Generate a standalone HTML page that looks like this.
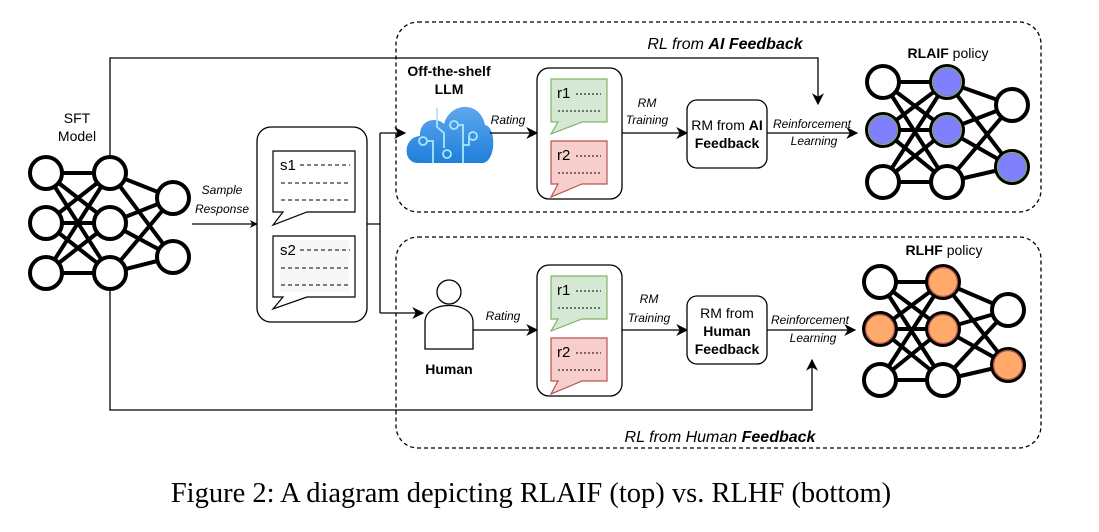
<!DOCTYPE html>
<html><head><meta charset="utf-8"><style>
body{margin:0;background:#fff}
svg{display:block}
text{font-family:"Liberation Sans",sans-serif;fill:#000}
</style></head><body>
<svg width="1099" height="532" viewBox="0 0 1099 532">
<defs>
<marker id="a" viewBox="0 0 10 10" refX="9" refY="5" markerWidth="8" markerHeight="8" orient="auto" markerUnits="userSpaceOnUse"><path d="M0,0 L10,5 L0,10 L3,5z" fill="#000"/></marker>
<marker id="b" viewBox="0 0 10 10" refX="9" refY="5" markerWidth="12" markerHeight="12" orient="auto" markerUnits="userSpaceOnUse"><path d="M0,0 L10,5 L0,10 L3,5z" fill="#000"/></marker>
<linearGradient id="cg" x1="0" y1="0" x2="0" y2="1"><stop offset="0" stop-color="#5ea7ee"/><stop offset="1" stop-color="#1f7fd9"/></linearGradient>
</defs>

<rect x="396" y="22" width="645" height="190" rx="22" fill="none" stroke="#000" stroke-width="1.3" stroke-dasharray="4,3"/>
<rect x="396" y="237" width="645" height="211" rx="22" fill="none" stroke="#000" stroke-width="1.3" stroke-dasharray="4,3"/>
<text x="725" y="49" font-size="16" font-style="italic" text-anchor="middle">RL from <tspan font-weight="bold">AI Feedback</tspan></text>
<text x="720" y="442" font-size="16" font-style="italic" text-anchor="middle">RL from Human <tspan font-weight="bold">Feedback</tspan></text>

<text x="77" y="123" font-size="14" text-anchor="middle">SFT</text>
<text x="77" y="141" font-size="14" text-anchor="middle">Model</text>
<g stroke="#000" stroke-width="4" fill="none">
<path d="M46,173 L110,173 M46,173 L110,223 M46,173 L110,273 M46,223 L110,173 M46,223 L110,223 M46,223 L110,273 M46,273 L110,173 M46,273 L110,223 M46,273 L110,273 M110,173 L173,198 M110,173 L173,257 M110,223 L173,198 M110,223 L173,257 M110,273 L173,198 M110,273 L173,257"/>
</g>
<g stroke="#000" stroke-width="4" fill="#fff">
<circle cx="46" cy="173" r="16"/><circle cx="46" cy="223" r="16"/><circle cx="46" cy="273" r="16"/>
<circle cx="110" cy="173" r="16"/><circle cx="110" cy="223" r="16"/><circle cx="110" cy="273" r="16"/>
<circle cx="173" cy="198" r="16"/><circle cx="173" cy="257" r="16"/>
</g>

<path d="M110,155 V58 H818 V104" fill="none" stroke="#000" stroke-width="1.3" marker-end="url(#b)"/>
<path d="M110,290 V410 H812 V360" fill="none" stroke="#000" stroke-width="1.3" marker-end="url(#b)"/>

<text x="222" y="194" font-size="12" font-style="italic" text-anchor="middle">Sample</text>
<text x="222" y="213" font-size="12" font-style="italic" text-anchor="middle">Response</text>
<path d="M192,224 H257" stroke="#000" stroke-width="1.3" marker-end="url(#a)"/>

<rect x="257" y="127" width="110" height="195" rx="14" fill="#fff" stroke="#000" stroke-width="1.3"/>
<path d="M273,151 H355 V212 H307 L273,225 L283,212 H273Z" fill="#fff" stroke="#000" stroke-width="1.2"/>
<path d="M273,236 H355 V297 H307 L273,309 L283,297 H273Z" fill="#fff" stroke="#000" stroke-width="1.2"/>
<rect x="280" y="240" width="69" height="52" fill="#f7f7f7"/>
<text x="280" y="170" font-size="15">s1</text>
<text x="280" y="255" font-size="15">s2</text>
<g stroke="#000" stroke-width="0.9" stroke-dasharray="4,3">
<path d="M300,165 H350 M281,183 H350 M281,200 H350 M300,250 H350 M281,268 H350 M281,285 H350"/>
</g>

<path d="M367,224 H380 M380,133 V313" stroke="#000" stroke-width="1.3" fill="none"/>
<path d="M380,133 H405" stroke="#000" stroke-width="1.3" marker-end="url(#b)"/>
<path d="M380,313 H423" stroke="#000" stroke-width="1.3" marker-end="url(#b)"/>

<text x="449" y="76" font-size="14" font-weight="bold" text-anchor="middle">Off-the-shelf</text>
<text x="449" y="94" font-size="14" font-weight="bold" text-anchor="middle">LLM</text>
<path d="M418,163 C402,163 403,137 420,136 C419,120 436,116 444,124 C450,102 480,100 485,125 C497,127 496,163 482,163Z" fill="url(#cg)"/>
<g stroke="#a8e8ff" stroke-width="1.8" fill="none">
<path d="M437,108 V127 L444,133 V148"/><circle cx="447" cy="154" r="4"/>
<circle cx="454" cy="125" r="4"/><path d="M458,125 H463 V163"/>
<circle cx="423" cy="141" r="4"/><path d="M427,141 H433 V163"/>
<circle cx="473" cy="136" r="4"/><path d="M469,136 V145 H463"/>
</g>

<circle cx="449" cy="292" r="12" fill="#fff" stroke="#000" stroke-width="1.3"/>
<path d="M425,349 V322 C425,300 473,300 473,322 V349Z" fill="#fff" stroke="#000" stroke-width="1.3"/>
<text x="449" y="374" font-size="14" font-weight="bold" text-anchor="middle">Human</text>

<text x="508" y="124" font-size="12" font-style="italic" text-anchor="middle">Rating</text>
<path d="M490,133 H537" stroke="#000" stroke-width="1.3" marker-end="url(#b)"/>
<text x="503" y="320" font-size="12" font-style="italic" text-anchor="middle">Rating</text>
<path d="M473,330 H537" stroke="#000" stroke-width="1.3" marker-end="url(#b)"/>

<g id="rb">
<rect x="537" y="68" width="85" height="131" rx="12" fill="#fff" stroke="#000" stroke-width="1.3"/>
<path d="M551,79 H607 V122 H582 L551,134 L558,122 H551Z" fill="#d5e8d4" stroke="#82b366" stroke-width="1.2"/>
<path d="M551,141 H607 V184 H582 L551,197 L558,184 H551Z" fill="#f8cecc" stroke="#b85450" stroke-width="1.2"/>
<text x="557" y="98" font-size="15">r1</text>
<text x="557" y="160" font-size="15">r2</text>
<g stroke="#000" stroke-width="0.9" stroke-dasharray="2,2"><path d="M576,94 H601 M558,111 H601 M576,156 H601 M558,173 H601"/></g>
</g>
<use href="#rb" transform="translate(0,197)"/>

<text x="647" y="107" font-size="12" font-style="italic" text-anchor="middle">RM</text>
<text x="647" y="124" font-size="12" font-style="italic" text-anchor="middle">Training</text>
<path d="M622,133 H687" stroke="#000" stroke-width="1.3" marker-end="url(#b)"/>
<text x="649" y="303" font-size="12" font-style="italic" text-anchor="middle">RM</text>
<text x="649" y="322" font-size="12" font-style="italic" text-anchor="middle">Training</text>
<path d="M622,330 H687" stroke="#000" stroke-width="1.3" marker-end="url(#b)"/>

<rect x="687" y="100" width="80" height="68" rx="10" fill="#fff" stroke="#000" stroke-width="1.3"/>
<text x="727" y="130" font-size="14" text-anchor="middle">RM from <tspan font-weight="bold">AI</tspan></text>
<text x="727" y="148" font-size="14" font-weight="bold" text-anchor="middle">Feedback</text>
<rect x="687" y="296" width="80" height="68" rx="10" fill="#fff" stroke="#000" stroke-width="1.3"/>
<text x="727" y="318" font-size="14" text-anchor="middle">RM from</text>
<text x="727" y="336" font-size="14" font-weight="bold" text-anchor="middle">Human</text>
<text x="727" y="354" font-size="14" font-weight="bold" text-anchor="middle">Feedback</text>

<text x="812" y="128" font-size="12" font-style="italic" text-anchor="middle">Reinforcement</text>
<text x="814" y="145" font-size="12" font-style="italic" text-anchor="middle">Learning</text>
<path d="M767,133 H857" stroke="#000" stroke-width="1.3" marker-end="url(#b)"/>
<text x="810" y="324" font-size="12" font-style="italic" text-anchor="middle">Reinforcement</text>
<text x="813" y="342" font-size="12" font-style="italic" text-anchor="middle">Learning</text>
<path d="M767,330 H855" stroke="#000" stroke-width="1.3" marker-end="url(#b)"/>

<text x="948" y="58" font-size="14" text-anchor="middle"><tspan font-weight="bold">RLAIF</tspan> policy</text>
<g stroke="#000" stroke-width="4" fill="none">
<path d="M883,82 L947,82 M883,82 L947,130 M883,82 L947,182 M883,130 L947,82 M883,130 L947,130 M883,130 L947,182 M883,182 L947,82 M883,182 L947,130 M883,182 L947,182 M947,82 L1012,105 M947,82 L1012,167 M947,130 L1012,105 M947,130 L1012,167 M947,182 L1012,105 M947,182 L1012,167"/>
</g>
<g stroke="#000" stroke-width="4" fill="#fff">
<circle cx="883" cy="82" r="16"/><circle cx="883" cy="182" r="16"/><circle cx="947" cy="182" r="16"/><circle cx="1012" cy="105" r="16"/>
</g>
<g stroke="#000" stroke-width="4" fill="#8080ff">
<circle cx="883" cy="130" r="16"/><circle cx="947" cy="82" r="16"/><circle cx="947" cy="130" r="16"/><circle cx="1012" cy="167" r="16"/>
</g>
<g stroke="#82b366" stroke-width="1.2" fill="none">
<circle cx="883" cy="130" r="14.5"/><circle cx="947" cy="82" r="14.5"/><circle cx="947" cy="130" r="14.5"/><circle cx="1012" cy="167" r="14.5"/>
</g>

<text x="944" y="255" font-size="14" text-anchor="middle"><tspan font-weight="bold">RLHF</tspan> policy</text>
<g stroke="#000" stroke-width="4" fill="none">
<path d="M880,282 L943,282 M880,282 L943,329 M880,282 L943,380 M880,329 L943,282 M880,329 L943,329 M880,329 L943,380 M880,380 L943,282 M880,380 L943,329 M880,380 L943,380 M943,282 L1008,310 M943,282 L1008,365 M943,329 L1008,310 M943,329 L1008,365 M943,380 L1008,310 M943,380 L1008,365"/>
</g>
<g stroke="#000" stroke-width="4" fill="#fff">
<circle cx="880" cy="282" r="16"/><circle cx="880" cy="380" r="16"/><circle cx="943" cy="380" r="16"/><circle cx="1008" cy="310" r="16"/>
</g>
<g stroke="#000" stroke-width="4" fill="#ffa96b">
<circle cx="880" cy="329" r="16"/><circle cx="943" cy="282" r="16"/><circle cx="943" cy="329" r="16"/><circle cx="1008" cy="365" r="16"/>
</g>
<g stroke="#b85450" stroke-width="1.2" fill="none">
<circle cx="880" cy="329" r="14.5"/><circle cx="943" cy="282" r="14.5"/><circle cx="943" cy="329" r="14.5"/><circle cx="1008" cy="365" r="14.5"/>
</g>

<text x="531" y="502" font-size="28.5" text-anchor="middle" style="font-family:'Liberation Serif',serif">Figure 2: A diagram depicting RLAIF (top) vs. RLHF (bottom)</text>
</svg>
</body></html>
